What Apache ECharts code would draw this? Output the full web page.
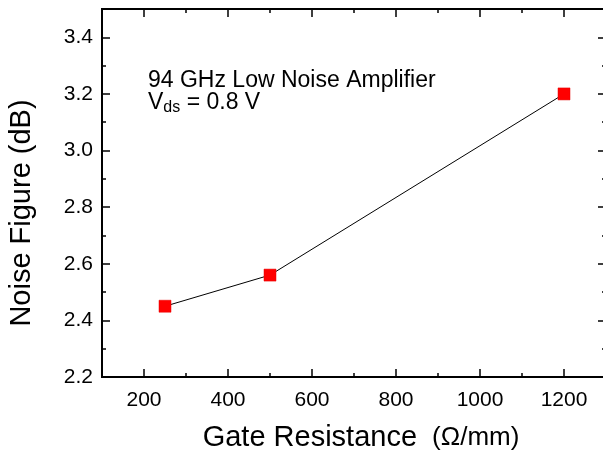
<!DOCTYPE html>
<html><head><meta charset="utf-8">
<script src="https://cdn.jsdelivr.net/npm/echarts@6/dist/echarts.min.js"></script>
<style>html,body{margin:0;padding:0;background:#fff}#c{width:603px;height:456px}</style>
</head><body><div id="c"></div>
<script>
// ---- data ----
const gateResistance = [250, 500, 1200];          // Ω/mm
const noiseFigure = [2.45, 2.56, 3.2];            // dB
const xMajorTicks = [200, 400, 600, 800, 1000, 1200];
const xMinorTicks = [300, 500, 700, 900, 1100];
const yMajorTicks = [2.2, 2.4, 2.6, 2.8, 3.0, 3.2, 3.4];
const yMinorTicks = [2.3, 2.5, 2.7, 2.9, 3.1, 3.3];
const xRange = [100, 1300];
const yRange = [2.2, 3.5];
const xTitle = 'Gate Resistance';
const xUnit = '(Ω/mm)';
const yTitle = 'Noise Figure (dB)';
const noteLine1 = '94 GHz Low Noise Amplifier';
const noteLine2 = ['V', 'ds', ' = 0.8 V'];

const FONT = '"Liberation Sans", Arial, Helvetica, sans-serif';
const chart = echarts.init(document.getElementById('c'), null, {renderer: 'canvas'});

function mkX(pos, ticks, len, labels) {
  return {
    type: 'value', position: pos, min: xRange[0], max: xRange[1],
    axisLine: {show: true, onZero: false, lineStyle: {color: '#000', width: 2}},
    axisTick: {show: true, inside: true, length: len, customValues: ticks, lineStyle: {color: '#000', width: 1.5}},
    axisLabel: labels ? {show: true, customValues: xMajorTicks, margin: 13, color: '#000', fontSize: 21, fontFamily: FONT,
      formatter: v => String(v)} : {show: false},
    splitLine: {show: false}
  };
}
function mkY(pos, ticks, len, labels, line) {
  return {
    type: 'value', position: pos, min: yRange[0], max: yRange[1],
    axisLine: {show: line, onZero: false, lineStyle: {color: '#000', width: 2}},
    axisTick: {show: true, inside: true, length: len, customValues: ticks, lineStyle: {color: '#000', width: 1.5}},
    axisLabel: labels ? {show: true, customValues: yMajorTicks, margin: 9, color: '#000', fontSize: 21, fontFamily: FONT,
      formatter: v => v.toFixed(1)} : {show: false},
    splitLine: {show: false}
  };
}

const xMain = mkX('bottom', xMajorTicks, 8, true);
xMain.name = '{a|' + xTitle + ' }{b|' + xUnit + '}';
xMain.nameLocation = 'middle';
xMain.nameGap = 46;
xMain.nameTextStyle = {color: '#000', fontFamily: FONT, padding: [0, 0, 0, 14],
  rich: {a: {fontSize: 29, fontFamily: FONT, color: '#000'},
         b: {fontSize: 26, fontFamily: FONT, color: '#000', padding: [0, 0, 0, 7]}}};

const yMain = mkY('left', yMajorTicks, 8, true, true);
yMain.name = yTitle;
yMain.nameLocation = 'middle';
yMain.nameGap = 66;
yMain.nameTextStyle = {color: '#000', fontFamily: FONT, fontSize: 29, padding: [0, 40, 0, 0]};

chart.setOption({
  animation: false,
  backgroundColor: '#fff',
  grid: {left: 102, top: 9, right: -3, bottom: 79, containLabel: false, outerBoundsMode: 'none', show: false},
  xAxis: [xMain, mkX('bottom', xMinorTicks, 4, false), mkX('top', xMajorTicks, 8, false), mkX('top', xMinorTicks, 4, false)],
  yAxis: [yMain, mkY('left', yMinorTicks, 4, false, true), mkY('right', yMajorTicks, 8, false, false), mkY('right', yMinorTicks, 4, false, false)],
  series: [{
    type: 'line', xAxisIndex: 0, yAxisIndex: 0,
    data: gateResistance.map((x, i) => [x, noiseFigure[i]]),
    lineStyle: {color: '#000', width: 1},
    symbol: 'rect', symbolSize: 12,
    itemStyle: {color: '#ff0000', borderColor: '#e60000', borderWidth: 0.5},
    z: 3
  }],
  graphic: [
    {type: 'text', left: 148, top: 69, style: {text: noteLine1, fontSize: 23, fontFamily: FONT, fill: '#000'}},
    {type: 'text', left: 148, top: 91, style: {
      text: '{a|' + noteLine2[0] + '}{b|' + noteLine2[1] + '}{a|' + noteLine2[2] + '}',
      fontFamily: FONT, fill: '#000',
      rich: {
        a: {fontSize: 23, lineHeight: 26, fontFamily: FONT, fill: '#000'},
        b: {fontSize: 16, lineHeight: 2, verticalAlign: 'bottom', fontFamily: FONT, fill: '#000'}
      }
    }}
  ]
});
</script>
</body></html>
